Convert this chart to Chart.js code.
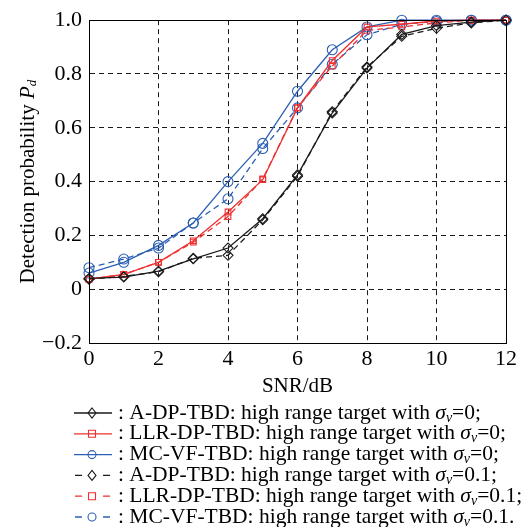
<!DOCTYPE html>
<html>
<head>
<meta charset="utf-8">
<script src="https://cdn.jsdelivr.net/npm/chart.js@4.4.1/dist/chart.umd.min.js"></script>
<style>
  html,body{margin:0;padding:0;background:#fff;}
  #wrap{width:526px;height:527px;}
</style>
</head>
<body>
<div id="wrap"><canvas id="chart" width="526" height="527"></canvas></div>
<script>
// ── data ─────────────────────────────────────────────────
const snr=[0,1,2,3,4,5,6,7,8,9,10,11,12];
const adpZero  =[0.040,0.045,0.067,0.113,0.153,0.262,0.425,0.655,0.822,0.947,0.980,0.993,1.0];
const llrZero  =[0.037,0.055,0.100,0.180,0.287,0.407,0.674,0.850,0.975,0.985,0.997,1.0,1.0];
const mcvfZero =[0.060,0.100,0.163,0.246,0.400,0.542,0.736,0.890,0.975,1.0,1.0,1.0,1.0];
const adpTen   =[0.037,0.048,0.065,0.115,0.126,0.258,0.420,0.660,0.826,0.940,0.970,0.990,1.0];
const llrTen   =[0.037,0.055,0.100,0.175,0.270,0.410,0.675,0.830,0.962,0.975,0.990,1.0,1.0];
const mcvfTen  =[0.080,0.112,0.153,0.246,0.336,0.523,0.674,0.836,0.946,0.985,0.995,1.0,1.0];
const xTicks=[0,2,4,6,8,10,12];
const yTicks=[-0.2,0,0.2,0.4,0.6,0.8,1.0];

const BLACK='#1a1a1a', RED='#ee3030', BLUE='#2c5fb4';
const SERIF='"Liberation Serif","DejaVu Serif",serif';

const legendRows=[
  {name:': A-DP-TBD: high range target with ',   val:'=0;'},
  {name:': LLR-DP-TBD: high range target with ', val:'=0;'},
  {name:': MC-VF-TBD: high range target with ',  val:'=0;'},
  {name:': A-DP-TBD: high range target with ',   val:'=0.1;'},
  {name:': LLR-DP-TBD: high range target with ', val:'=0.1;'},
  {name:': MC-VF-TBD: high range target with ',  val:'=0.1.'},
];

function ds(data,color,style,dashed){
  return {data:snr.map((x,i)=>({x,y:data[i]})),borderColor:color,backgroundColor:'transparent',
    borderWidth:1.3,borderDash:dashed?[6,4]:[],pointStyle:style,pointRadius:style==='rect'?4:5,
    pointBorderColor:color,pointBackgroundColor:'transparent',pointBorderWidth:1.1,tension:0,clip:false};
}
const datasets=[
  ds(adpZero,BLACK,'rectRot',false),
  ds(llrZero,RED,'rect',false),
  ds(mcvfZero,BLUE,'circle',false),
  ds(adpTen,BLACK,'rectRot',true),
  ds(llrTen,RED,'rect',true),
  ds(mcvfTen,BLUE,'circle',true),
];

function marker(ctx,style,x,y,color){
  ctx.save();ctx.strokeStyle=color;ctx.lineWidth=1.1;ctx.setLineDash([]);ctx.beginPath();
  if(style==='circle'){ctx.arc(x,y,4,0,Math.PI*2);}
  else if(style==='rect'){ctx.rect(x-3.5,y-3.5,7,7);}
  else {ctx.moveTo(x,y-5);ctx.lineTo(x+4,y);ctx.lineTo(x,y+5);ctx.lineTo(x-4,y);ctx.closePath();}
  ctx.stroke();ctx.restore();
}

const decor={
  id:'decor',
  afterDraw(chart){
    const ctx=chart.ctx, a=chart.chartArea;
    ctx.save();
    // box round plot
    ctx.strokeStyle='#000';ctx.lineWidth=1;ctx.setLineDash([]);
    ctx.strokeRect(Math.round(a.left)+0.5,Math.round(a.top)+0.5,Math.round(a.right-a.left),Math.round(a.bottom-a.top));
    // y title
    ctx.fillStyle='#000';ctx.textBaseline='middle';
    ctx.translate(28,(a.top+a.bottom)/2);ctx.rotate(-Math.PI/2);
    const f1='21px '+SERIF, f2='italic 21px '+SERIF, f3='italic 13px '+SERIF;
    ctx.font=f1;const w1=ctx.measureText('Detection probability ').width;
    ctx.font=f2;const w2=ctx.measureText('P').width;
    ctx.font=f3;const w3=ctx.measureText('d').width;
    let x=-(w1+w2+w3)/2;
    ctx.font=f1;ctx.textAlign='left';ctx.fillText('Detection probability ',x,0);x+=w1;
    ctx.font=f2;ctx.fillText('P',x,0);x+=w2;
    ctx.font=f3;ctx.fillText('d',x,5);
    ctx.restore();
    // legend
    ctx.save();
    const y0=413, dy=20.8;
    legendRows.forEach((r,i)=>{
      const d=chart.data.datasets[i], y=y0+i*dy;
      ctx.strokeStyle=d.borderColor;ctx.lineWidth=1.3;
      ctx.beginPath();
      if(d.borderDash.length){
        ctx.moveTo(75,y);ctx.lineTo(82,y);ctx.moveTo(103,y);ctx.lineTo(110,y);
      }else{ctx.moveTo(74,y);ctx.lineTo(112,y);}
      ctx.stroke();
      marker(ctx,d.pointStyle,92,y,d.borderColor);
      ctx.fillStyle='#000';ctx.textBaseline='middle';ctx.textAlign='left';
      let tx=118;
      ctx.font='21.5px '+SERIF;ctx.fillText(r.name,tx,y);tx+=ctx.measureText(r.name).width;
      ctx.font='italic 21.5px '+SERIF;ctx.fillText('σ',tx,y);tx+=ctx.measureText('σ').width;
      ctx.font='italic 14px '+SERIF;ctx.fillText('v',tx,y+5);tx+=ctx.measureText('v').width;
      ctx.font='21.5px '+SERIF;ctx.fillText(r.val,tx,y);
    });
    ctx.restore();
  }
};

function fmtY(v){
  const r=Math.round(v*10)/10;
  if(r===0) return '0';
  return (r<0?'\u2212':'')+Math.abs(r).toFixed(1);
}

new Chart(document.getElementById('chart'),{
  type:'line',
  data:{datasets},
  plugins:[decor],
  options:{
    responsive:false,animation:false,devicePixelRatio:1,
    layout:{padding:{top:18,right:20,bottom:124,left:0}},
    plugins:{legend:{display:false},tooltip:{enabled:false}},
    scales:{
      x:{type:'linear',min:0,max:12,
        afterFit:s=>{s.height=60;},
        afterBuildTicks:s=>{s.ticks=xTicks.map(v=>({value:v}));},
        ticks:{color:'#000',font:{family:SERIF,size:22},padding:3,maxRotation:0},
        grid:{color:'#000',lineWidth:0.9,drawTicks:false},
        border:{color:'#000',width:1,dash:[5,4]},
        title:{display:true,text:'SNR/dB',color:'#000',font:{family:SERIF,size:21},padding:{top:5}}},
      y:{min:-0.2,max:1.0,
        afterFit:s=>{s.width=89;},
        afterBuildTicks:s=>{s.ticks=yTicks.map(v=>({value:v}));},
        ticks:{color:'#000',font:{family:SERIF,size:22},padding:7,callback:fmtY},
        grid:{color:'#000',lineWidth:0.9,drawTicks:false},
        border:{color:'#000',width:1,dash:[5,4]}}
    }
  }
});
</script>
</body>
</html>
